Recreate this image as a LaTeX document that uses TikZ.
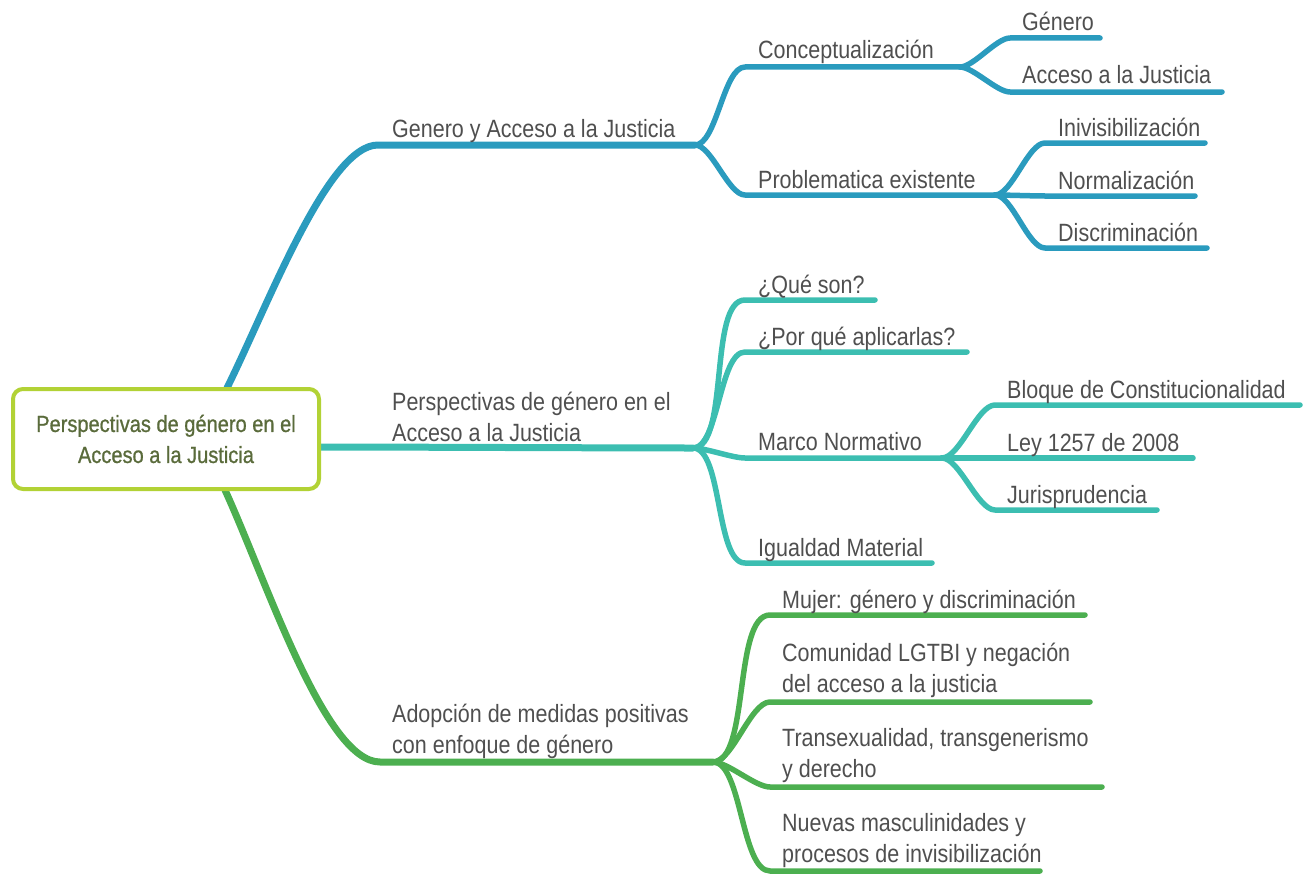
\documentclass[tikz,border=0pt]{standalone}
\usepackage{fontspec}
\setmainfont{Liberation Sans}[FakeStretch=0.86]
\newfontfamily\rootfont{Liberation Sans}[FakeStretch=0.86,FakeBold=0.8]
\usetikzlibrary{calc}
\definecolor{cblue}{HTML}{2A9BBE}
\definecolor{cteal}{HTML}{3CBEB1}
\definecolor{cgreen}{HTML}{4CAF50}
\definecolor{croot}{HTML}{B2D235}
\definecolor{croottext}{HTML}{5A6B3B}
\definecolor{ctext}{HTML}{4F4F4F}
\begin{document}
\begin{tikzpicture}[x=1pt,y=-1pt,
  lbl/.style={anchor=base west, inner sep=0pt, text=ctext, font=\fontsize{25}{31}\selectfont, align=left},
  rootbox/.style={draw=croot, line width=4pt, rounded corners=10pt, fill=white,
    minimum width=306pt, minimum height=100pt, align=center, text=croottext,
    font=\rootfont\fontsize{23.3}{31}\selectfont, inner sep=0pt},
  mainline/.style={line width=7pt, line cap=round, line join=round},
  subline/.style={line width=5.5pt, line cap=round, line join=round},
  lnk/.style={out=0, in=180, looseness=0.6}]
\useasboundingbox (0,0) rectangle (1312,875);

% ---------- coordinates ----------
\coordinate (rb) at (227,388);
\coordinate (rt) at (320,447);
\coordinate (rg) at (225,490);
% blue
\coordinate (b1s) at (378,145); \coordinate (b1f) at (695,145);
\coordinate (c1s) at (745,67);  \coordinate (c1e) at (960,67);
\coordinate (c2s) at (745,195); \coordinate (c2e) at (995,195);
\coordinate (g1s) at (1010,38); \coordinate (g1e) at (1100,38);
\coordinate (g2s) at (1010,92); \coordinate (g2e) at (1222,92);
\coordinate (p1s) at (1045,143); \coordinate (p1e) at (1205,143);
\coordinate (p2s) at (1045,196); \coordinate (p2e) at (1195,196);
\coordinate (p3s) at (1045,248); \coordinate (p3e) at (1207,248);
% teal
\coordinate (t2f) at (693,448);
\coordinate (q1s) at (745,300); \coordinate (q1e) at (875,300);
\coordinate (q2s) at (745,352); \coordinate (q2e) at (967,352);
\coordinate (q3s) at (745,458); \coordinate (q3e) at (942,458);
\coordinate (q4s) at (745,563); \coordinate (q4e) at (932,563);
\coordinate (m1s) at (995,405); \coordinate (m1e) at (1300,405);
\coordinate (m2s) at (995,458); \coordinate (m2e) at (1193,458);
\coordinate (m3s) at (995,510); \coordinate (m3e) at (1157,510);
% green
\coordinate (b3s) at (380,762); \coordinate (t3f) at (713,762);
\coordinate (a1s) at (770,615); \coordinate (a1e) at (1085,615);
\coordinate (a2s) at (770,702); \coordinate (a2e) at (1090,702);
\coordinate (a3s) at (770,787); \coordinate (a3e) at (1102,787);
\coordinate (a4s) at (770,871); \coordinate (a4e) at (1040,871);

% ---------- blue branch ----------
\draw[mainline, cblue] (rb) .. controls +(42,-85) and +(-50,0) .. (b1s) -- (b1f);
\draw[subline, cblue] (b1f) to[lnk] (c1s) -- (c1e);
\draw[subline, cblue] (b1f) to[lnk] (c2s) -- (c2e);
\draw[subline, cblue] (c1e) to[lnk] (g1s) -- (g1e);
\draw[subline, cblue] (c1e) to[lnk] (g2s) -- (g2e);
\draw[subline, cblue] (c2e) to[lnk] (p1s) -- (p1e);
\draw[subline, cblue] (c2e) to[lnk] (p2s) -- (p2e);
\draw[subline, cblue] (c2e) to[lnk] (p3s) -- (p3e);

% ---------- teal branch ----------
\draw[mainline, cteal] (rt) to[out=0,in=180,looseness=0.5] (t2f);
\draw[subline, cteal] (t2f) to[lnk] (q1s) -- (q1e);
\draw[subline, cteal] (t2f) to[lnk] (q2s) -- (q2e);
\draw[subline, cteal] (t2f) to[lnk] (q3s) -- (q3e);
\draw[subline, cteal] (t2f) to[lnk] (q4s) -- (q4e);
\draw[subline, cteal] (q3e) to[lnk] (m1s) -- (m1e);
\draw[subline, cteal] (q3e) to[lnk] (m2s) -- (m2e);
\draw[subline, cteal] (q3e) to[lnk] (m3s) -- (m3e);

% ---------- green branch ----------
\draw[mainline, cgreen] (rg) .. controls +(42,92) and +(-55,0) .. (b3s) -- (t3f);
\draw[subline, cgreen] (t3f) to[lnk] (a1s) -- (a1e);
\draw[subline, cgreen] (t3f) to[lnk] (a2s) -- (a2e);
\draw[subline, cgreen] (t3f) to[lnk] (a3s) -- (a3e);
\draw[subline, cgreen] (t3f) to[lnk] (a4s) -- (a4e);

% ---------- root ----------
\node[rootbox] (root) at (166,439) {Perspectivas de género en el\\Acceso a la Justicia};

% ---------- labels ----------
\node[lbl] (t1) at (392,137) {Genero y Acceso a la Justicia};
\node[lbl] (c1) at (758,59) {Conceptualización};
\node[lbl] (c2) at (758,188) {Problematica existente};
\node[lbl] (g1) at (1022,31) {Género};
\node[lbl] (g2) at (1022,84) {Acceso a la Justicia};
\node[lbl] (p1) at (1058,136) {Inivisibilización};
\node[lbl] (p2) at (1058,189) {Normalización};
\node[lbl] (p3) at (1058,241) {Discriminación};

\node[lbl] (t2) at (392,441) {Perspectivas de género en el\\Acceso a la Justicia};
\node[lbl] (q1) at (758,293) {¿Qué son?};
\node[lbl] (q2) at (758,345) {¿Por qué aplicarlas?};
\node[lbl] (q3) at (758,450) {Marco Normativo};
\node[lbl] (q4) at (758,556) {Igualdad Material};
\node[lbl] (m1) at (1007,398) {Bloque de Constitucionalidad};
\node[lbl] (m2) at (1007,451) {Ley 1257 de 2008};
\node[lbl] (m3) at (1007,503) {Jurisprudencia};

\node[lbl] (t3) at (392,753) {Adopción de medidas positivas\\con enfoque de género};
\node[lbl] (a1) at (782,608) {Mujer: género y discriminación};
\node[lbl] (a2) at (782,692) {Comunidad LGTBI y negación\\del acceso a la justicia};
\node[lbl] (a3) at (782,777) {Transexualidad, transgenerismo\\y derecho};
\node[lbl] (a4) at (782,862) {Nuevas masculinidades y\\procesos de invisibilización};
\end{tikzpicture}
\end{document}
